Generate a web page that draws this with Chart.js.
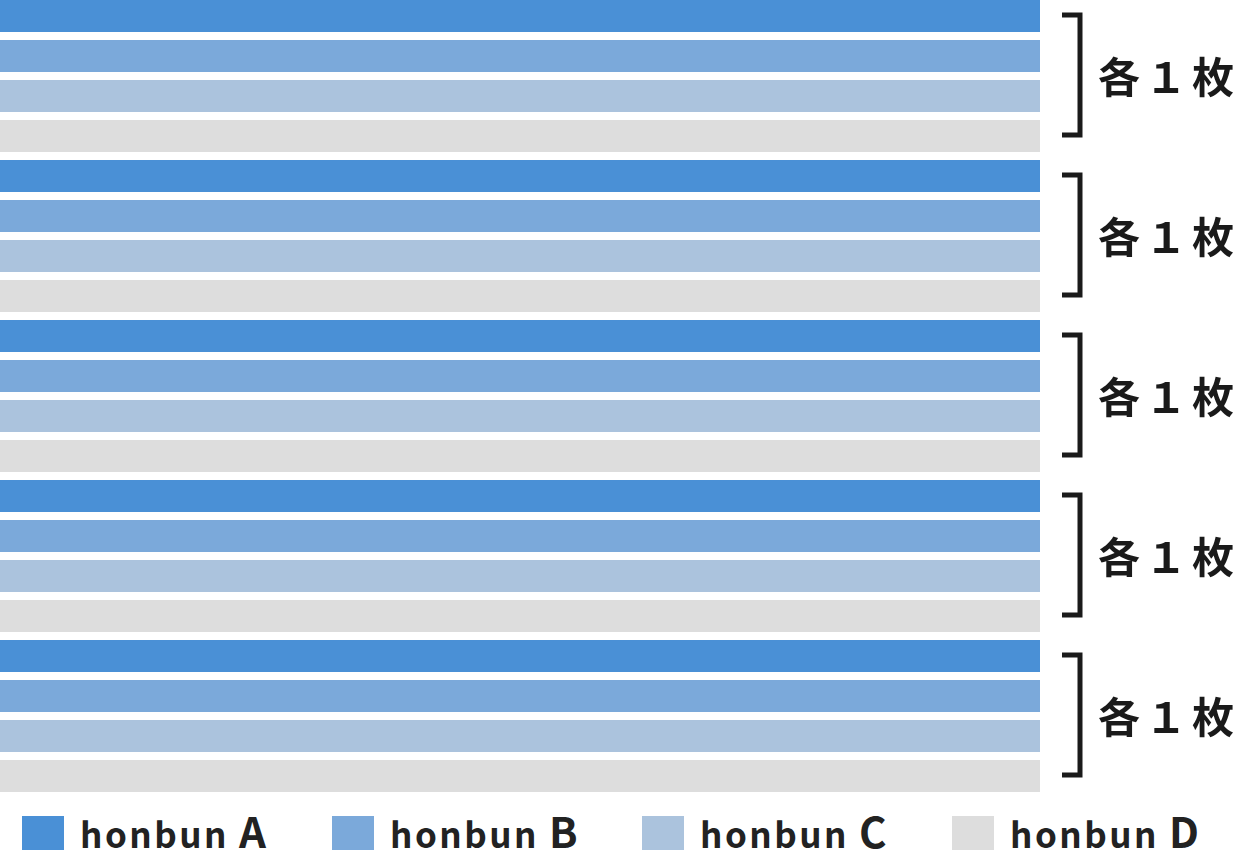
<!DOCTYPE html>
<html><head><meta charset="utf-8">
<script src="https://cdn.jsdelivr.net/npm/chart.js@4"></script>
<style>
body{margin:0;background:#fff;width:1240px;height:860px;overflow:hidden;font-family:"Noto Sans CJK JP","Noto Sans",sans-serif}
#wrap{position:absolute;left:0;top:-4px;width:1240px;height:800px}
.lg{position:absolute;top:810px;height:46px;display:flex;align-items:center;font-weight:bold;font-size:35px;color:#222;letter-spacing:2.5px}
.lg span.b{display:inline-block;width:42px;height:34px;margin-right:16px}
.lg .t{position:relative;top:-4px}
.lg em{font-style:normal;font-size:42px;margin-left:10px}
</style></head><body>
<div id="wrap"><canvas id="c"></canvas></div>
<div id="legend"></div>
<script>
const series = ['honbun A', 'honbun B', 'honbun C', 'honbun D'];
const colors = ['#4a90d6', '#7ba9da', '#abc3dd', '#dddddd'];
const groups = ['各１枚', '各１枚', '各１枚', '各１枚', '各１枚'];
const value = 100;

const labels = [];
groups.forEach((g, gi) => series.forEach((s, si) => labels.push(gi + '-' + si)));
const datasets = series.map((s, si) => ({
  label: s,
  backgroundColor: colors[si],
  data: labels.map((l, i) => (i % 4 === si ? value : null)),
  barPercentage: 0.8,
  categoryPercentage: 1
}));

const brackets = {
  id: 'brackets',
  afterDraw(chart) {
    const ctx = chart.ctx, y = chart.scales.y, xr = chart.chartArea.right;
    ctx.save();
    ctx.strokeStyle = '#1a1a1a'; ctx.lineWidth = 5; ctx.fillStyle = '#1a1a1a';
    ctx.font = 'bold 42px "Noto Sans CJK JP"';
    ctx.textBaseline = 'middle';
    groups.forEach((g, gi) => {
      const top = y.getPixelForValue(gi * 4) - 1;
      const bot = y.getPixelForValue(gi * 4 + 3) - 1;
      ctx.beginPath();
      ctx.moveTo(xr + 22, top); ctx.lineTo(xr + 40, top);
      ctx.lineTo(xr + 40, bot); ctx.lineTo(xr + 22, bot);
      ctx.stroke();
      ctx.letterSpacing = '5px';
      ctx.fillText(g, xr + 58, (top + bot) / 2 + 2);
    });
    ctx.restore();
  }
};

new Chart(document.getElementById('c'), {
  type: 'bar',
  data: { labels, datasets },
  options: {
    indexAxis: 'y',
    responsive: true,
    maintainAspectRatio: false,
    animation: false,
    layout: { padding: { right: 200 } },
    scales: {
      x: { display: false, min: 0, max: value, stacked: true },
      y: { display: false, stacked: true }
    },
    plugins: { legend: { display: false }, tooltip: { enabled: false } }
  },
  plugins: [brackets]
});

const lefts = [22, 332, 642, 952];
const lg = document.getElementById('legend');
series.forEach((s, i) => {
  const d = document.createElement('div');
  d.className = 'lg';
  d.style.left = lefts[i] + 'px';
  const parts = s.split(' ');
  d.innerHTML = '<span class="b" style="background:' + colors[i] + '"></span><span class="t">' + parts[0] + '<em>' + parts[1] + '</em></span>';
  lg.appendChild(d);
});
</script>
</body></html>
